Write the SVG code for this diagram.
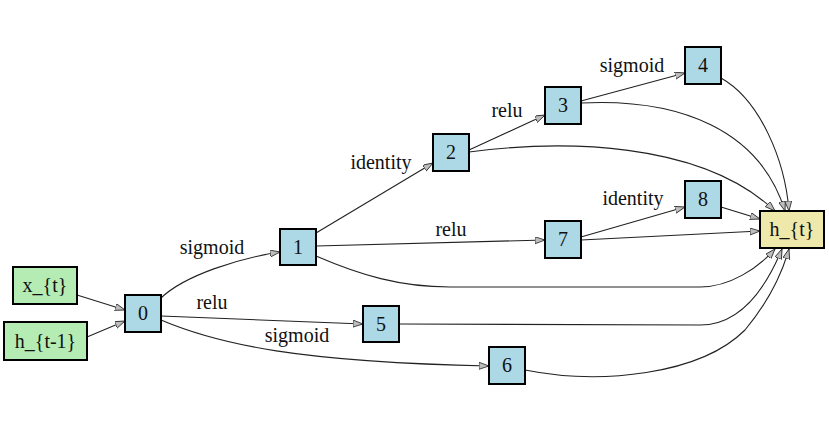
<svg xmlns="http://www.w3.org/2000/svg" width="829" height="433" viewBox="0 0 829 433">
  <style>
    .node rect { stroke: #000; stroke-width: 2; }
    .op rect { fill: #add8e6; }
    .in rect { fill: #b4ecb4; }
    .out rect { fill: #eee8aa; }
    .node text { font-family: "Liberation Serif", "Times New Roman", serif; font-size: 20px; fill: #111; text-anchor: middle; }
    .edges path { fill: none; stroke: #222; stroke-width: 1.1; marker-end: url(#arrow); }
    .lbl { font-family: "Liberation Serif", "Times New Roman", serif; font-size: 20px; fill: #111; text-anchor: middle; }
  </style>
  <defs>
    <marker id="arrow" markerUnits="userSpaceOnUse" markerWidth="12" markerHeight="9" refX="10" refY="3.5" orient="auto">
      <path d="M0,0 L10,3.5 L0,7 z" fill="#bdbdbd" stroke="#222" stroke-width="0.8"/>
    </marker>
  </defs>
  <rect width="829" height="433" fill="#fff"/>

  <g class="edges">
    <path d="M77,295 L125,310"/>
    <path d="M87,337 L125,321"/>
    <path d="M161,298 C185,275 240,258 280,252"/>
    <path d="M161,316 L363,324"/>
    <path d="M161,320 C220,345 300,362 489,366"/>
    <path d="M316,233 L433,163"/>
    <path d="M316,246 L545,240"/>
    <path d="M316,256 C360,275 400,287 450,287 L700,287 C730,287 758,268 775,249"/>
    <path d="M469,150 L545,115"/>
    <path d="M469,152 C560,140 700,140 775,211"/>
    <path d="M581,101 L685,73"/>
    <path d="M581,103 C680,98 760,130 785,211"/>
    <path d="M721,78 C760,100 785,160 789,211"/>
    <path d="M581,237 L685,207"/>
    <path d="M581,240 L760,231"/>
    <path d="M721,207 L760,219"/>
    <path d="M399,324 L700,325 C740,325 765,290 782,249"/>
    <path d="M525,370 C600,385 700,375 745,330 C770,300 783,270 789,249"/>
  </g>

  <g id="labels">
    <text class="lbl" x="212" y="254">sigmoid</text>
    <text class="lbl" x="212" y="309">relu</text>
    <text class="lbl" x="297" y="342">sigmoid</text>
    <text class="lbl" x="381" y="169">identity</text>
    <text class="lbl" x="451" y="236">relu</text>
    <text class="lbl" x="507" y="117">relu</text>
    <text class="lbl" x="632" y="72">sigmoid</text>
    <text class="lbl" x="633" y="205">identity</text>
  </g>

  <g id="node-xt" class="node in"><rect x="13" y="267" width="64" height="37"/><text x="45" y="292">x_{t}</text></g>
  <g id="node-hprev" class="node in"><rect x="4" y="322" width="83" height="38"/><text x="45.5" y="348">h_{t-1}</text></g>
  <g id="node-0" class="node op"><rect x="125" y="295" width="36" height="37"/><text x="143" y="320">0</text></g>
  <g id="node-1" class="node op"><rect x="280" y="229" width="36" height="36"/><text x="298" y="254">1</text></g>
  <g id="node-2" class="node op"><rect x="433" y="134" width="36" height="37"/><text x="451" y="159">2</text></g>
  <g id="node-3" class="node op"><rect x="545" y="87" width="36" height="37"/><text x="563" y="112">3</text></g>
  <g id="node-4" class="node op"><rect x="685" y="47" width="36" height="37"/><text x="703" y="72">4</text></g>
  <g id="node-5" class="node op"><rect x="363" y="306" width="36" height="36"/><text x="381" y="331">5</text></g>
  <g id="node-6" class="node op"><rect x="489" y="347" width="36" height="37"/><text x="507" y="372">6</text></g>
  <g id="node-7" class="node op"><rect x="545" y="221" width="36" height="37"/><text x="563" y="246">7</text></g>
  <g id="node-8" class="node op"><rect x="685" y="181" width="36" height="37"/><text x="703" y="206">8</text></g>
  <g id="node-ht" class="node out"><rect x="760" y="211" width="64" height="37"/><text x="792" y="236">h_{t}</text></g>
</svg>
